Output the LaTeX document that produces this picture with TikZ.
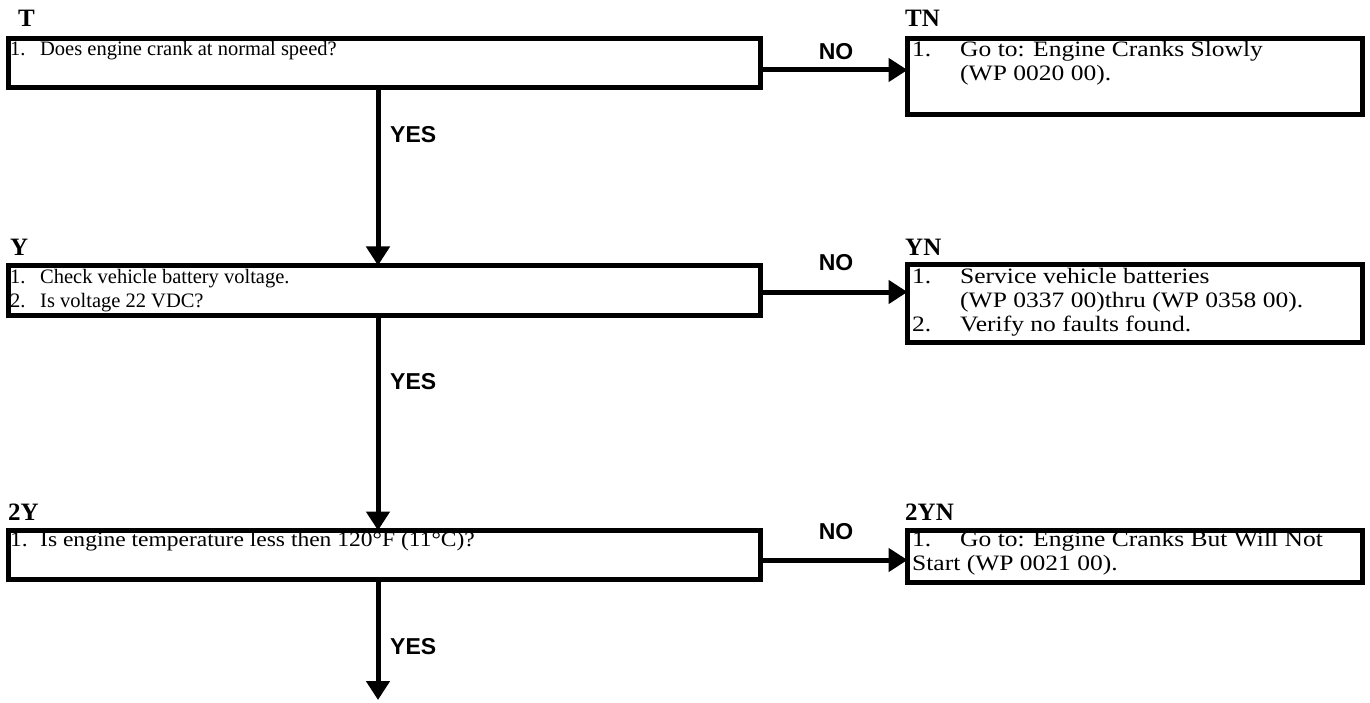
\documentclass[tikz,border=0pt]{standalone}
\usepackage{fontspec}
\setmainfont{Liberation Serif}
\setsansfont{Liberation Sans}
\newfontfamily\wideserif[FakeStretch=1.16]{Liberation Serif}
\newfontfamily\midserif[FakeStretch=1.12]{Liberation Serif}
\usetikzlibrary{arrows.meta}
\begin{document}
\begin{tikzpicture}[x=1pt,y=-1pt,
 box/.style={draw, line width=5pt, anchor=north west, inner sep=0pt, outer sep=0pt},
 txt/.style={anchor=north west, align=left, inner sep=0pt, font=\fontsize{20.5}{24}\selectfont},
 rtxt/.style={anchor=north west, align=left, inner sep=0pt, font=\wideserif\fontsize{22}{24}\selectfont},
 lab/.style={anchor=base west, inner sep=0pt, font=\bfseries\fontsize{25}{25}\selectfont},
 ans/.style={anchor=base, inner sep=0pt, font=\sffamily\bfseries\fontsize{23}{23}\selectfont},
 yes/.style={anchor=base west, inner sep=0pt, font=\sffamily\bfseries\fontsize{23}{23}\selectfont},
 arr/.style={line width=5pt, -{Triangle[length=19pt,width=23pt]}}]
\useasboundingbox (0,0) rectangle (1370,703);

% boxes
\node[box, minimum width=752pt, minimum height=49pt] (T) at (8.5,38.5) {};
\node[box, minimum width=455pt, minimum height=76pt] (TN) at (907.5,38.5) {};
\node[box, minimum width=752pt, minimum height=50pt] (Y) at (8.5,265.5) {};
\node[box, minimum width=455pt, minimum height=78pt] (YN) at (907.5,264.5) {};
\node[box, minimum width=752pt, minimum height=49pt] (TwoY) at (8.5,530.5) {};
\node[box, minimum width=455pt, minimum height=52pt] (TwoYN) at (907.5,530.5) {};

% box labels
\node[lab] (Tl) at (18,27) {T};
\node[lab] (TNl) at (905,27) {TN};
\node[lab] (Yl) at (10,256) {Y};
\node[lab] (YNl) at (905,256) {YN};
\node[lab] (TwoYl) at (8,520) {2Y};
\node[lab] (TwoYNl) at (905,520) {2YN};

% texts
\node[txt] (Tt) at (10,38.2) {\strut\makebox[30pt][l]{1.}Does engine crank at normal speed?};
\node[rtxt] (TNt) at (912,39.2) {\strut\makebox[48pt][l]{1.}Go to: Engine Cranks Slowly\\\hspace*{48pt}(WP 0020 00).};
\node[txt] (Yt) at (10,266.2) {\strut\makebox[30pt][l]{1.}Check vehicle battery voltage.\\\makebox[30pt][l]{2.}Is voltage 22 VDC?};
\node[rtxt] (YNt) at (912,266.2) {\strut\makebox[48pt][l]{1.}Service vehicle batteries\\\hspace*{48pt}(WP 0337 00)thru (WP 0358 00).\\\makebox[48pt][l]{2.}Verify no faults found.};
\node[txt, font=\midserif\fontsize{21}{24}\selectfont] (TwoYt) at (10,529.2) {\strut\makebox[30pt][l]{1.}Is engine temperature less then 120°F (11°C)?};
\node[rtxt] (TwoYNt) at (912,529.2) {\strut\makebox[48pt][l]{1.}Go to: Engine Cranks But Will Not\\Start (WP 0021 00).};

% connectors
\coordinate (v) at (378,0);
\coordinate (h1) at (0,70);
\coordinate (h2) at (0,292);
\coordinate (h3) at (0,560);
\coordinate (end) at (378,700);
\draw[arr] (T.east |- h1) -- (TN.west |- h1);
\draw[arr] (Y.east |- h2) -- (YN.west |- h2);
\draw[arr] (TwoY.east |- h3) -- (TwoYN.west |- h3);
\draw[arr] (T.south -| v) -- (Y.north -| v);
\draw[arr] (Y.south -| v) -- (TwoY.north -| v);
\draw[arr] (TwoY.south -| v) -- (end);

% answer labels
\node[ans] (no1) at (836,60) {NO};
\node[ans] (no2) at (836,271) {NO};
\node[ans] (no3) at (836,539) {NO};
\node[yes] (yes1) at (390,143) {YES};
\node[yes] (yes2) at (390,389) {YES};
\node[yes] (yes3) at (390,654) {YES};
\end{tikzpicture}
\end{document}
